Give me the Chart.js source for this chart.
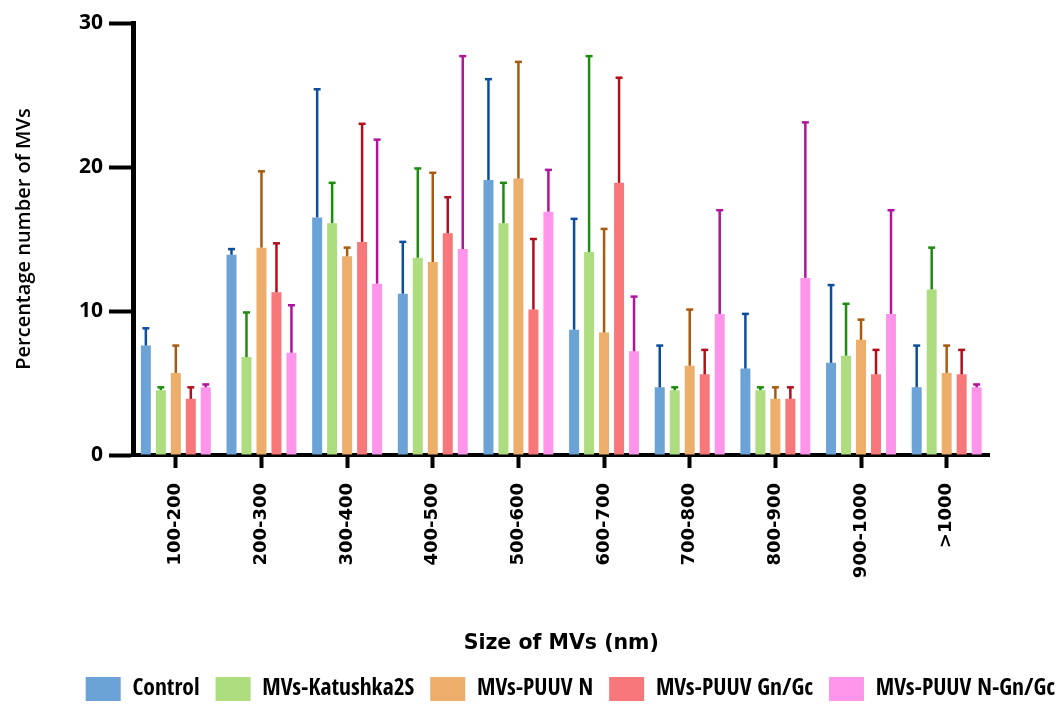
<!DOCTYPE html>
<html>
<head>
<meta charset="utf-8">
<script src="https://cdn.jsdelivr.net/npm/chart.js@4.4.1/dist/chart.umd.min.js"></script>
<style>
  html, body { margin: 0; padding: 0; background: #fff; }
  #wrap { width: 1059px; height: 704px; }
</style>
</head>
<body>
<div id="wrap"><canvas id="mvChart"></canvas></div>
<script>
var sizeLabels = ['100-200', '200-300', '300-400', '400-500', '500-600', '600-700', '700-800', '800-900', '900-1000', '>1000'];

var control = [7.6, 13.9, 16.5, 11.2, 19.1, 8.7, 4.7, 6.0, 6.4, 4.7];
var controlSd = [1.2, 0.4, 8.9, 3.6, 7.0, 7.7, 2.9, 3.8, 5.4, 2.9];

var katushka = [4.5, 6.8, 16.1, 13.7, 16.1, 14.1, 4.5, 4.5, 6.9, 11.5];
var katushkaSd = [0.2, 3.1, 2.8, 6.2, 2.8, 13.6, 0.2, 0.2, 3.6, 2.9];

var puuvN = [5.7, 14.4, 13.8, 13.4, 19.2, 8.5, 6.2, 3.9, 8.0, 5.7];
var puuvNSd = [1.9, 5.3, 0.6, 6.2, 8.1, 7.2, 3.9, 0.8, 1.4, 1.9];

var puuvGnGc = [3.9, 11.3, 14.8, 15.4, 10.1, 18.9, 5.6, 3.9, 5.6, 5.6];
var puuvGnGcSd = [0.8, 3.4, 8.2, 2.5, 4.9, 7.3, 1.7, 0.8, 1.7, 1.7];

var puuvNGnGc = [4.7, 7.1, 11.9, 14.3, 16.9, 7.2, 9.8, 12.3, 9.8, 4.7];
var puuvNGnGcSd = [0.2, 3.3, 10.0, 13.4, 2.9, 3.8, 7.2, 10.8, 7.2, 0.2];

var yTicks = [0, 10, 20, 30];

// upper error bars (mean + SD) drawn through the y scale
var errorBars = {
    id: 'errorBars',
    afterDatasetsDraw: function (chart) {
        var ctx = chart.ctx;
        var yScale = chart.scales.y;
        chart.data.datasets.forEach(function (ds, i) {
            var meta = chart.getDatasetMeta(i);
            if (meta.hidden) return;
            meta.data.forEach(function (bar, j) {
                var yTop = yScale.getPixelForValue(ds.data[j] + ds.sd[j]);
                ctx.save();
                ctx.strokeStyle = ds.errColor;
                ctx.lineWidth = 2.5;
                ctx.beginPath();
                ctx.moveTo(bar.x, bar.y);
                ctx.lineTo(bar.x, yTop);
                ctx.stroke();
                ctx.beginPath();
                ctx.moveTo(bar.x - 3.5, yTop);
                ctx.lineTo(bar.x + 3.5, yTop);
                ctx.stroke();
                ctx.restore();
            });
        });
    }
};

Chart.defaults.color = '#000';

var ctx = document.getElementById('mvChart').getContext('2d');
var mvChart = new Chart(ctx, {
    type: 'bar',
    data: {
        labels: sizeLabels,
        datasets: [
            { label: 'Control', data: control, sd: controlSd, backgroundColor: '#6CA3D6', errColor: '#0C4E9C' },
            { label: 'MVs-Katushka2S', data: katushka, sd: katushkaSd, backgroundColor: '#ADDD7E', errColor: '#1E8C0E' },
            { label: 'MVs-PUUV N', data: puuvN, sd: puuvNSd, backgroundColor: '#ECAE6A', errColor: '#A85A0E' },
            { label: 'MVs-PUUV Gn/Gc', data: puuvGnGc, sd: puuvGnGcSd, backgroundColor: '#F8777B', errColor: '#B20E1C' },
            { label: 'MVs-PUUV N-Gn/Gc', data: puuvNGnGc, sd: puuvNGnGcSd, backgroundColor: '#FF95EB', errColor: '#AE149E' }
        ]
    },
    options: {
        responsive: true,
        maintainAspectRatio: false,
        animation: false,
        categoryPercentage: 0.875,
        barPercentage: 0.667,
        // legend row sits a little past the canvas edges in the original
        layout: { padding: { top: 23, left: 0, right: -12, bottom: -7 } },
        plugins: {
            legend: {
                position: 'bottom',
                align: 'end',
                labels: {
                    boxWidth: 35,
                    boxHeight: 24,
                    padding: 16,
                    color: '#000',
                    font: { family: "'Open Sans Condensed', 'Roboto Condensed', sans-serif", size: 23.5, weight: 'bold', lineHeight: 1 }
                }
            },
            tooltip: { enabled: false }
        },
        scales: {
            x: {
                grid: { display: true, drawOnChartArea: false, offset: false, tickLength: 13, tickWidth: 4, color: '#000', tickColor: '#000' },
                border: { display: true, color: '#000', width: 4 },
                ticks: {
                    minRotation: 90,
                    maxRotation: 90,
                    padding: 15,
                    font: { family: "'DejaVu Sans'", size: 18, weight: 'bold' }
                },
                title: {
                    display: true,
                    text: 'Size of MVs (nm)',
                    padding: { top: 0, bottom: 5 },
                    font: { family: "'DejaVu Sans'", size: 20.5, weight: 'bold' }
                },
                afterFit: function (s) { s.height = 206; }
            },
            y: {
                min: 0,
                max: 30,
                afterBuildTicks: function (s) { s.ticks = yTicks.map(function (v) { return { value: v }; }); },
                grid: { display: true, drawOnChartArea: false, tickLength: 24, tickWidth: 4, color: '#000', tickColor: '#000' },
                border: { display: true, color: '#000', width: 5 },
                ticks: {
                    padding: 6,
                    font: { family: "'Open Sans'", size: 21, weight: 'bold' }
                },
                title: {
                    display: true,
                    text: 'Percentage number of MVs',
                    padding: { top: 12, bottom: 0 },
                    font: { family: "'Open Sans'", size: 20, weight: '600' }
                },
                afterFit: function (s) { s.width = 133; }
            },
            rightPad: {
                position: 'right',
                display: true,
                grid: { display: false },
                border: { display: false },
                ticks: { display: false },
                afterFit: function (s) { s.width = 81.5; }
            }
        }
    },
    plugins: [errorBars]
});
</script>
</body>
</html>
